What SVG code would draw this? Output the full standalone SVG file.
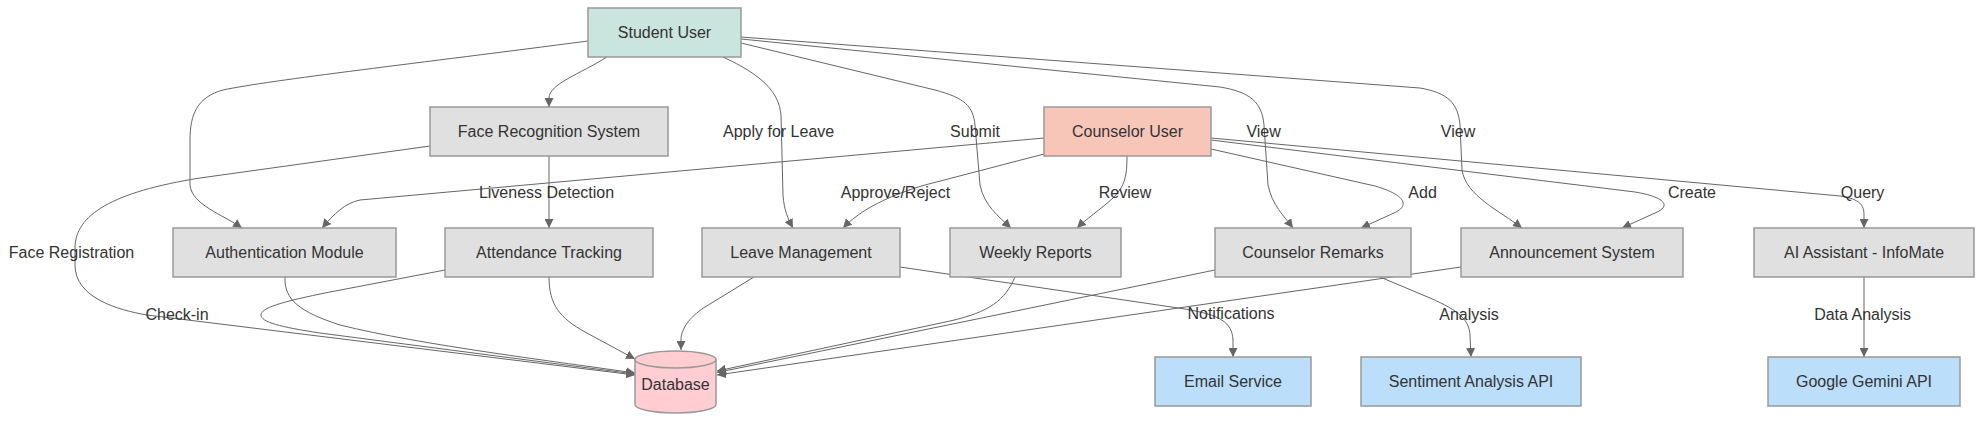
<svg xmlns="http://www.w3.org/2000/svg" width="1983" height="422" viewBox="0 0 1983 422">
<style>
  .node rect, .node path { stroke: #999; stroke-width: 1.5; }
  .gray { fill: #e0e0e0; }
  .blue { fill: #bbdefb; }
  .student { fill: #c9e5de; }
  .counselor { fill: #f8c6b8; }
  .db { fill: #ffcdd2; }
  text { font-family: "Liberation Sans", Arial, sans-serif; font-size: 16px; fill: #333; text-anchor: middle; dominant-baseline: central; }
  .edge { fill: none; stroke: #666; stroke-width: 1; marker-end: url(#arrow); }
</style>
<defs>
  <marker id="arrow" viewBox="0 0 10 10" refX="10" refY="5" markerWidth="9" markerHeight="9" markerUnits="userSpaceOnUse" orient="auto">
    <path d="M0,0 L10,5 L0,10 z" fill="#666"/>
  </marker>
</defs>
<rect width="1983" height="422" fill="#fff"/>
<g id="connectors">
  <path class="edge" d="M607,57 C580,74 549,84 549,98 L549,107"/>
  <path class="edge" d="M588,41 C420,63 270,80 223,90 C197,97 190,115 190,140 L190,185 C192,205 222,214 242,228"/>
  <path class="edge" d="M723,57 C762,75 779,92 781,115 L783,195 C784,210 788,219 793,228"/>
  <path class="edge" d="M741,43 L935,90 C965,98 973,106 975,125 L980,185 C984,205 998,216 1011,228"/>
  <path class="edge" d="M741,39 L1220,87 C1250,92 1262,102 1264,125 L1268,185 C1272,205 1284,216 1293,228"/>
  <path class="edge" d="M741,37 L1420,88 C1448,93 1458,103 1460,125 L1462,170 C1466,196 1500,211 1522,228"/>
  <path class="edge" d="M549,156 L549,228"/>
  <path class="edge" d="M430,146 L200,178 C112,192 75,215 75,248 L75,265 C75,298 118,310 147,315 L635,375"/>
  <path class="edge" d="M1044,138 L360,200 C345,203 334,214 322,228"/>
  <path class="edge" d="M1044,154 L925,185 C890,195 860,210 843,228"/>
  <path class="edge" d="M1127,156 C1127,176 1125,186 1113,198 C1100,210 1086,219 1077,228"/>
  <path class="edge" d="M1211,149 L1375,186 C1406,195 1410,206 1394,213 L1361,228"/>
  <path class="edge" d="M1211,140 L1635,192 C1665,197 1672,206 1655,213 L1622,228"/>
  <path class="edge" d="M1211,138 L1840,196 C1860,199 1864,205 1864,215 L1864,228"/>
  <path class="edge" d="M1864,277 L1864,357"/>
  <path class="edge" d="M1380,277 L1430,298 C1460,311 1469,320 1470,335 L1471,357"/>
  <path class="edge" d="M900,267 L1185,309 C1220,315 1232,322 1233,340 L1233,357"/>
  <path class="edge" d="M285,277 C284,300 300,312 340,325 C420,345 560,362 635,373"/>
  <path class="edge" d="M445,270 L330,292 C280,302 261,308 261,315 C261,322 280,327 320,333 L635,374"/>
  <path class="edge" d="M549,277 C549,305 560,318 585,332 L635,359"/>
  <path class="edge" d="M754,277 L705,307 C688,318 681,330 681,340 L681,350"/>
  <path class="edge" d="M1015,277 C1005,300 990,312 950,321 L717,371"/>
  <path class="edge" d="M1215,270 L717,372.5"/>
  <path class="edge" d="M1461,267 L717,375"/>
  <g id="edge-labels">
    <text x="778.6" y="131">Apply for Leave</text>
    <text x="975" y="131">Submit</text>
    <text x="1263.6" y="131">View</text>
    <text x="1458" y="131">View</text>
    <text x="546.5" y="192">Liveness Detection</text>
    <text x="895.5" y="192">Approve/Reject</text>
    <text x="1125" y="192">Review</text>
    <text x="1422.6" y="192">Add</text>
    <text x="1692" y="192">Create</text>
    <text x="1862.6" y="192">Query</text>
    <text x="71.5" y="252.7">Face Registration</text>
    <text x="177" y="314">Check-in</text>
    <text x="1231" y="313.3">Notifications</text>
    <text x="1469" y="314">Analysis</text>
    <text x="1862.6" y="314">Data Analysis</text>
  </g>
</g>
<g id="student" class="node"><rect class="student" x="588" y="8" width="153" height="49"/><text x="664.5" y="32.5">Student User</text></g>
<g id="facerec" class="node"><rect class="gray" x="430" y="107" width="238" height="49"/><text x="549" y="131.5">Face Recognition System</text></g>
<g id="counselor" class="node"><rect class="counselor" x="1044" y="107" width="167" height="49"/><text x="1127.5" y="131.5">Counselor User</text></g>
<g id="auth" class="node"><rect class="gray" x="173" y="228" width="223" height="49"/><text x="284.5" y="252.5">Authentication Module</text></g>
<g id="attendance" class="node"><rect class="gray" x="445" y="228" width="208" height="49"/><text x="549" y="252.5">Attendance Tracking</text></g>
<g id="leave" class="node"><rect class="gray" x="702" y="228" width="198" height="49"/><text x="801" y="252.5">Leave Management</text></g>
<g id="weekly" class="node"><rect class="gray" x="950" y="228" width="171" height="49"/><text x="1035.5" y="252.5">Weekly Reports</text></g>
<g id="remarks" class="node"><rect class="gray" x="1215" y="228" width="196" height="49"/><text x="1313" y="252.5">Counselor Remarks</text></g>
<g id="announcement" class="node"><rect class="gray" x="1461" y="228" width="222" height="49"/><text x="1572" y="252.5">Announcement System</text></g>
<g id="ai" class="node"><rect class="gray" x="1754" y="228" width="220" height="49"/><text x="1864" y="252.5">AI Assistant - InfoMate</text></g>
<g id="email" class="node"><rect class="blue" x="1155" y="357" width="156" height="49"/><text x="1233" y="381.5">Email Service</text></g>
<g id="sentiment" class="node"><rect class="blue" x="1361" y="357" width="220" height="49"/><text x="1471" y="381.5">Sentiment Analysis API</text></g>
<g id="gemini" class="node"><rect class="blue" x="1768" y="357" width="192" height="49"/><text x="1864" y="381.5">Google Gemini API</text></g>
<g id="database" class="node">
  <path class="db" d="M635,359.5 A40.5,8.5 0 0 1 716,359.5 L716,404.5 A40.5,8.5 0 0 1 635,404.5 Z"/>
  <path d="M635,359.5 A40.5,8.5 0 0 0 716,359.5" fill="none"/>
  <text x="675.5" y="384">Database</text>
</g>
</svg>
